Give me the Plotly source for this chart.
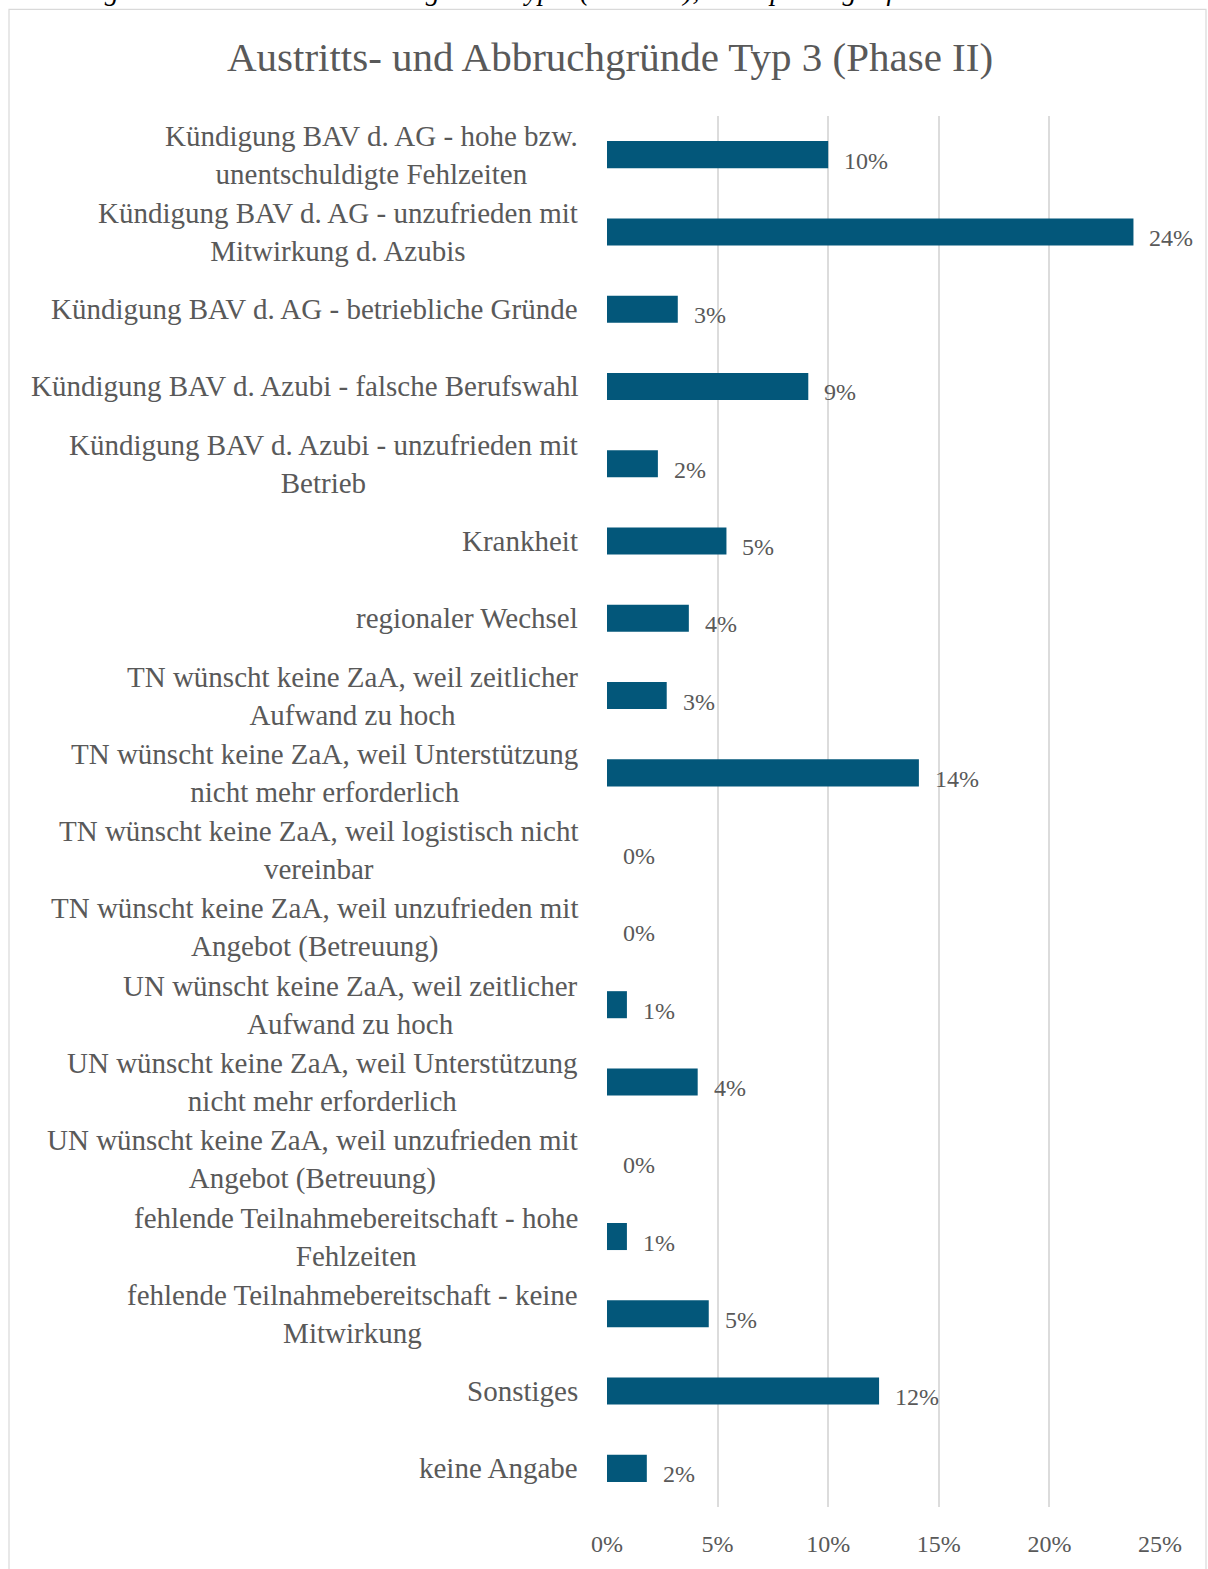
import plotly.graph_objects as go

# categories, top to bottom
categories = [
    'Kündigung BAV d. AG - hohe bzw.<br>unentschuldigte Fehlzeiten',
    'Kündigung BAV d. AG - unzufrieden mit<br>Mitwirkung d. Azubis',
    'Kündigung BAV d. AG - betriebliche Gründe',
    'Kündigung BAV d. Azubi - falsche Berufswahl',
    'Kündigung BAV d. Azubi - unzufrieden mit<br>Betrieb',
    'Krankheit',
    'regionaler Wechsel',
    'TN wünscht keine ZaA, weil zeitlicher<br>Aufwand zu hoch',
    'TN wünscht keine ZaA, weil Unterstützung<br>nicht mehr erforderlich',
    'TN wünscht keine ZaA, weil logistisch nicht<br>vereinbar',
    'TN wünscht keine ZaA, weil unzufrieden mit<br>Angebot (Betreuung)',
    'UN wünscht keine ZaA, weil zeitlicher<br>Aufwand zu hoch',
    'UN wünscht keine ZaA, weil Unterstützung<br>nicht mehr erforderlich',
    'UN wünscht keine ZaA, weil unzufrieden mit<br>Angebot (Betreuung)',
    'fehlende Teilnahmebereitschaft - hohe<br>Fehlzeiten',
    'fehlende Teilnahmebereitschaft - keine<br>Mitwirkung',
    'Sonstiges',
    'keine Angabe',
]
# shares
values = [0.100, 0.238, 0.032, 0.091, 0.023, 0.054, 0.037, 0.027, 0.141,
          0.0, 0.0, 0.009, 0.041, 0.0, 0.009, 0.046, 0.123, 0.018]
x_ticks = [0, 0.05, 0.10, 0.15, 0.20, 0.25]
x_ticklabels = ['0%', '5%', '10%', '15%', '20%', '25%']

title = 'Austritts- und Abbruchgründe Typ 3 (Phase II)'
caption = 'Abbildung 23: Austritts- und Abbruchgründe Typ 3 (Phase II), konzeptübergreifend'

W, H = 1208, 1569
L, R, T, B = 607, 48, 116, 58
pw = W - L - R
ph = H - T - B

def px_x(p):
    return (p - L) / pw

def px_y(p):
    return (H - B - p) / ph

FONT = 'Liberation Serif'
GREY = '#595959'

fig = go.Figure()
fig.add_trace(go.Bar(
    x=values,
    y=categories,
    orientation='h',
    marker=dict(color='#03577a', line=dict(width=0)),
    hoverinfo='x+y',
))

annotations = []
# category labels, centred lines like the original
for c in categories:
    annotations.append(dict(
        x=px_x(580), xref='paper', xanchor='right',
        y=c, yref='y', yanchor='middle',
        text=c, align='center', showarrow=False,
        font=dict(family=FONT, size=29, color=GREY),
    ))

# value labels
for c, v in zip(categories, values):
    annotations.append(dict(
        x=v, xref='x', xanchor='left', xshift=14,
        y=c, yref='y', yanchor='middle', yshift=-6,
        text='{:.0f}%'.format(v * 100), showarrow=False,
        font=dict(family=FONT, size=24, color=GREY),
    ))

# caption that is cut off at the top of the page
annotations.append(dict(
    x=px_x(-2), xref='paper', xanchor='left',
    y=px_y(8), yref='paper', yanchor='bottom',
    text='<i>' + caption + '</i>', showarrow=False,
    font=dict(family=FONT, size=28, color='#000000'),
))

fig.update_layout(
    width=W, height=H,
    margin=dict(l=L, r=R, t=T, b=B),
    paper_bgcolor='white', plot_bgcolor='white',
    title=dict(text=title, x=610 / W, xanchor='center',
               y=1 - 57 / H, yanchor='middle',
               font=dict(family=FONT, size=41, color=GREY)),
    bargap=0.65,
    showlegend=False,
    annotations=annotations,
    xaxis=dict(
        range=[0, 0.25],
        tickvals=x_ticks, ticktext=x_ticklabels,
        showgrid=True, gridcolor='#dcdcdc', gridwidth=1.5,
        zeroline=False, showline=False,
        tickfont=dict(family=FONT, size=24, color=GREY),
        ticks='', ticklabelstandoff=20,
    ),
    yaxis=dict(
        autorange='reversed', showticklabels=False,
        showgrid=False, zeroline=False, showline=False, ticks='',
    ),
    shapes=[dict(
        type='rect', xref='paper', yref='paper',
        x0=px_x(9), x1=px_x(1206), y0=px_y(1580), y1=px_y(9),
        line=dict(color='#d9d9d9', width=1.2), fillcolor='rgba(0,0,0,0)',
        layer='below',
    )],
)

# the page's default body margin would shift the chart by 8px
fig.write_html('out.html', config={'displayModeBar': False},
               post_script="document.body.style.margin='0px';")
